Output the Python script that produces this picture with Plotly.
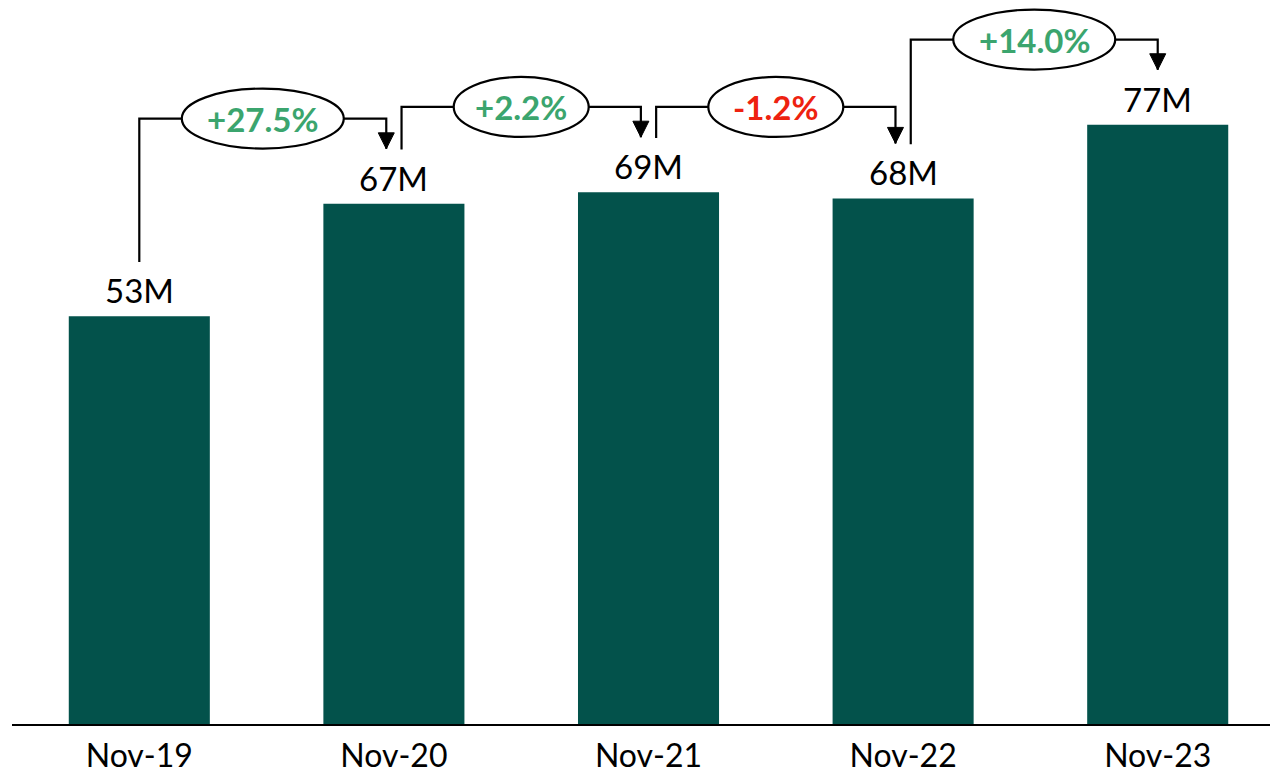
import plotly.graph_objects as go

categories = ["Nov-19", "Nov-20", "Nov-21", "Nov-22", "Nov-23"]
values = [52.6, 67.1, 68.6, 67.8, 77.3]          # millions
value_labels = ["53M", "67M", "69M", "68M", "77M"]
change_labels = ["+27.5%", "+2.2%", "-1.2%", "+14.0%"]

BAR_COLOR = "#03524B"
GREEN = "#3BA56E"
RED = "#EE2210"
FONT = "Lato"

fig = go.Figure()
fig.add_trace(go.Bar(
    x=categories, y=values, width=0.554,
    marker=dict(color=BAR_COLOR, line=dict(width=0)),
    hoverinfo="skip",
))

shapes = []
annotations = []

# value labels above bars
for c, v, lab in zip(categories, values, value_labels):
    annotations.append(dict(
        x=c, y=v, xref="x", yref="y", text=lab, showarrow=False,
        yanchor="bottom", yshift=4,
        font=dict(family=FONT, size=33, color="black"),
    ))

n = len(values)
line_style = dict(color="black", width=2.2)
for i, lab in enumerate(change_labels):
    v0, v1 = values[i], values[i + 1]
    xl = i + (0.03 if i > 0 else 0.0)
    xr = (i + 1) - (0.03 if i + 1 < n - 1 else 0.0)
    y_start = v0 + 7.0
    y_tip = v1 + 7.1
    y_top = max(v0, v1) + 11.0
    xm = (xl + xr) / 2
    # connector path (left riser, top run, right drop)
    shapes.append(dict(type="path", xref="x", yref="y",
                       path=f"M {xl},{y_start} L {xl},{y_top} L {xr},{y_top} L {xr},{y_tip}",
                       line=line_style, layer="above"))
    # arrow head
    shapes.append(dict(type="path", xref="x", yref="y",
                       xsizemode="pixel", ysizemode="pixel",
                       xanchor=xr, yanchor=y_tip,
                       path="M -8,16 L 8,16 L 0,0 Z",
                       fillcolor="black", line=dict(color="black", width=1), layer="above"))
    # ellipse badge
    half_w = 13.5 * len(lab)
    shapes.append(dict(type="circle", xref="x", yref="y",
                       xsizemode="pixel", ysizemode="pixel",
                       xanchor=xm, yanchor=y_top,
                       x0=-half_w, x1=half_w, y0=-30, y1=30,
                       fillcolor="white", line=line_style, layer="above"))
    annotations.append(dict(
        x=xm, y=y_top, xref="x", yref="y", text=f"<b>{lab}</b>", showarrow=False,
        xanchor="center", yanchor="middle",
        font=dict(family=FONT, size=33, color=GREEN if lab.startswith("+") else RED),
    ))

fig.update_layout(
    width=1270, height=775,
    margin=dict(l=12, r=0, t=0, b=51),
    paper_bgcolor="white", plot_bgcolor="white",
    showlegend=False,
    shapes=shapes, annotations=annotations,
    font=dict(family=FONT, color="black"),
    xaxis=dict(type="category", range=[-0.5, 4.441], automargin=False,
               showline=True, linecolor="black", linewidth=2,
               ticks="", showgrid=False, zeroline=False,
               tickfont=dict(family=FONT, size=32, color="black"),
               ticklabelstandoff=3),
    yaxis=dict(range=[0, 93.4], visible=False, showgrid=False, zeroline=False,
               automargin=False),
)

fig.write_html("out.html")
